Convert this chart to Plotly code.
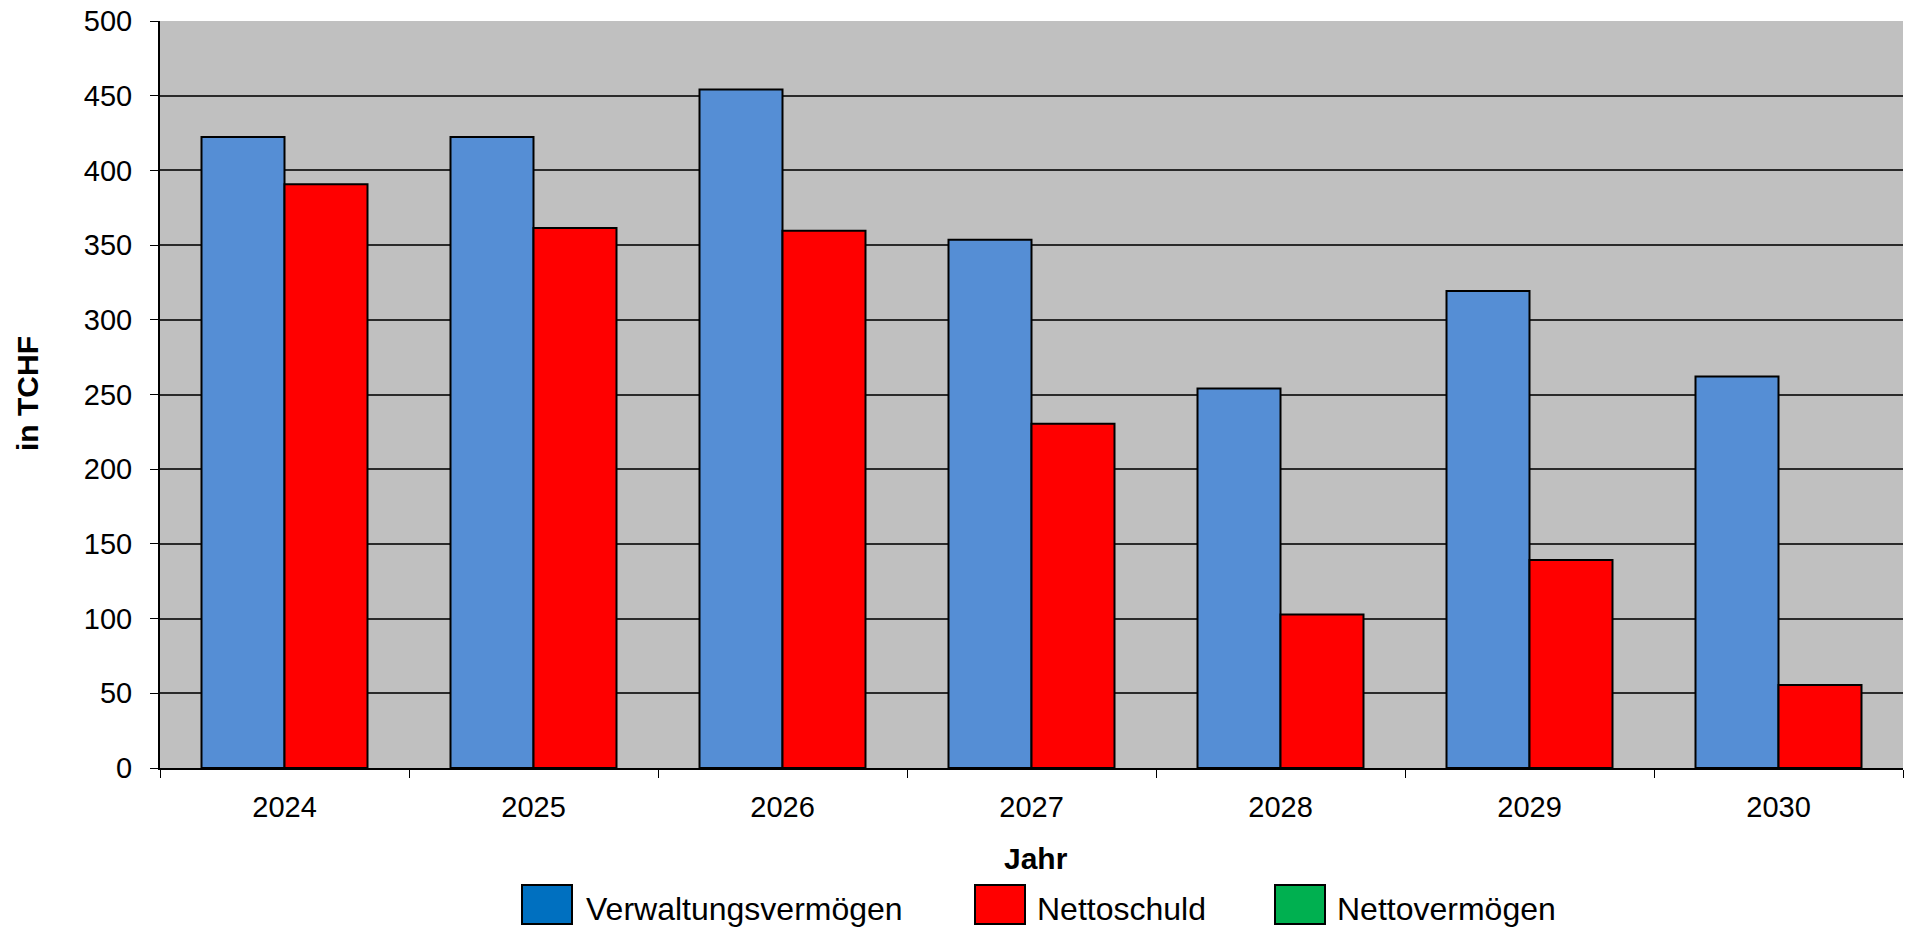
import plotly.graph_objects as go

years = ["2024", "2025", "2026", "2027", "2028", "2029", "2030"]
verwaltungsvermoegen = [422.3, 422.3, 454.2, 353.6, 254.0, 319.2, 262.0]
nettoschuld = [390.8, 361.4, 359.6, 230.4, 102.7, 139.3, 55.6]
legend_names = ["Verwaltungsvermögen", "Nettoschuld", "Nettovermögen"]
legend_colors = ["#0070C0", "#FF0000", "#00B050"]
y_ticks = [0, 50, 100, 150, 200, 250, 300, 350, 400, 450, 500]

FONT = "Liberation Sans, Arial, sans-serif"

fig = go.Figure()
fig.add_trace(go.Bar(
    x=years, y=verwaltungsvermoegen, name=legend_names[0],
    marker=dict(color="#558ED5", line=dict(color="#000000", width=2)),
    width=1/3, offset=-1/3, showlegend=False,
))
fig.add_trace(go.Bar(
    x=years, y=nettoschuld, name=legend_names[1],
    marker=dict(color="#FF0000", line=dict(color="#000000", width=2)),
    width=1/3, offset=0, showlegend=False,
))

W_PLOT = 1743.0
H_PLOT = 747.0
def px_x(px):
    return (px - 160) / W_PLOT
def px_y(py):
    return (768 - py) / H_PLOT

shapes = []
annotations = []
sw_left = [522, 975, 1275]
txt_left = [584, 1035, 1335]
for name, col, sx, tx in zip(legend_names, legend_colors, sw_left, txt_left):
    shapes.append(dict(type="rect", xref="paper", yref="paper",
                       x0=px_x(sx), x1=px_x(sx + 50), y0=px_y(885), y1=px_y(924),
                       fillcolor=col, line=dict(color="#000000", width=2)))
    annotations.append(dict(text=name, xref="paper", yref="paper",
                            x=px_x(tx), y=px_y(909), xanchor="left", yanchor="middle",
                            showarrow=False, font=dict(family=FONT, size=32, color="#000000")))

annotations.append(dict(text="<b>Jahr</b>", xref="paper", yref="paper",
                        x=px_x(1036), y=px_y(858), xanchor="center", yanchor="middle",
                        showarrow=False, font=dict(family=FONT, size=30, color="#000000")))
annotations.append(dict(text="<b>in TCHF</b>", xref="paper", yref="paper",
                        x=px_x(27), y=px_y(394), xanchor="center", yanchor="middle",
                        textangle=-90, showarrow=False,
                        font=dict(family=FONT, size=30, color="#000000")))

fig.update_layout(
    width=1907, height=931,
    margin=dict(l=160, r=4, t=21, b=163),
    paper_bgcolor="#FFFFFF",
    plot_bgcolor="#C0C0C0",
    barmode="overlay",
    showlegend=False,
    font=dict(family=FONT, size=29, color="#000000"),
    shapes=shapes,
    annotations=annotations,
)
fig.update_xaxes(
    type="category",
    showline=True, linecolor="#000000", linewidth=2,
    ticks="outside", tickson="boundaries", ticklen=8, tickcolor="#000000", tickwidth=1,
    showgrid=False,
    tickfont=dict(family=FONT, size=29, color="#000000"),
    ticklabelstandoff=12,
)
fig.update_yaxes(
    range=[0, 500], tickvals=y_ticks,
    showline=True, linecolor="#000000", linewidth=2,
    ticks="outside", ticklen=8, tickcolor="#000000", tickwidth=1,
    showgrid=True, gridcolor="#2a2a2a", gridwidth=1.5,
    zeroline=False,
    tickfont=dict(family=FONT, size=29, color="#000000"),
    ticklabelstandoff=12,
)

fig.write_html(
    "out.html",
    config={"displayModeBar": False},
    post_script="document.body.style.margin='0';document.body.style.overflow='hidden';",
)
